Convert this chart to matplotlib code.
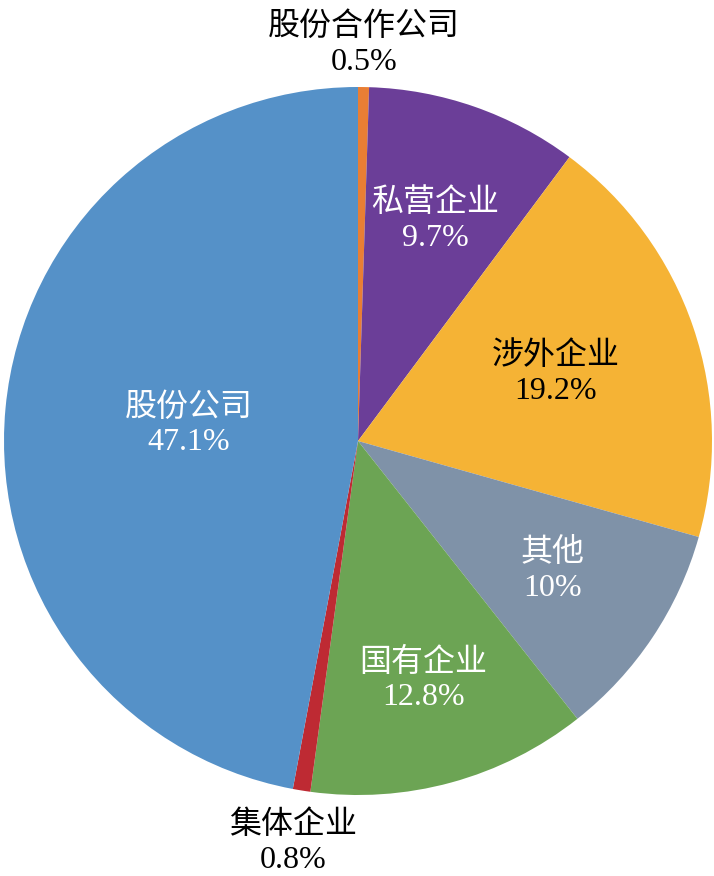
import matplotlib
matplotlib.use("Agg")
from matplotlib import pyplot as plt
import numpy as np

# data
labels = ["股份合作公司", "私营企业", "涉外企业", "其他", "国有企业", "集体企业", "股份公司"]
values = [0.5, 9.7, 19.2, 10, 12.8, 0.8, 47.1]
pct_text = ["0.5%", "9.7%", "19.2%", "10%", "12.8%", "0.8%", "47.1%"]

colors = ["#E97E34", "#6B3E98", "#F5B335", "#7F92A8", "#6CA454", "#BE2A33", "#5591C8"]
label_dist = [1.12, 0.66, 0.59, 0.66, 0.70, 1.15, 0.48]
label_color = ["black", "white", "black", "white", "white", "black", "white"]

fig = plt.figure(figsize=(7.14, 8.76), dpi=100)
W, H = 714, 876
cx, cy, r = 358, 441, 354
ax = fig.add_axes([(cx - r) / W, 1 - (cy + r) / H, 2 * r / W, 2 * r / H])

wedges, _ = ax.pie(values, colors=colors, startangle=90, counterclock=False,
                   wedgeprops=dict(linewidth=0))
ax.set_xlim(-1, 1)
ax.set_ylim(-1, 1)
ax.set_aspect("equal")
ax.axis("off")

for w, lab, p, d, c in zip(wedges, labels, pct_text, label_dist, label_color):
    ang = np.deg2rad((w.theta1 + w.theta2) / 2)
    ax.text(d * np.cos(ang), d * np.sin(ang), lab + "\n" + p,
            ha="center", va="center", color=c, fontsize=23,
            family=["Liberation Serif", "Noto Sans CJK SC"],
            linespacing=1.25, clip_on=False)

fig.savefig("out.png", dpi=100)
